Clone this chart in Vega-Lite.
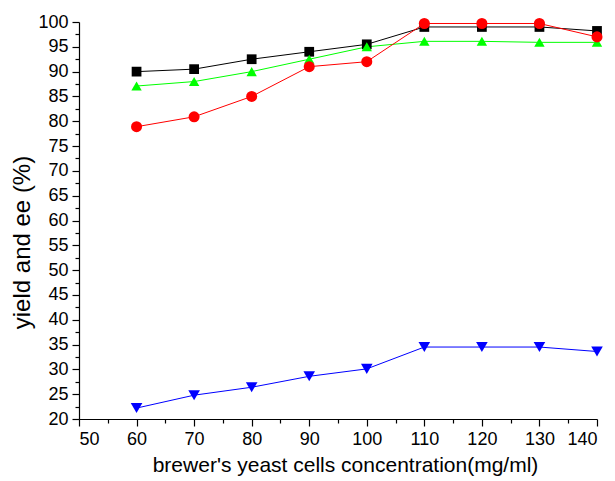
{
  "$schema": "https://vega.github.io/schema/vega-lite/v6.json",
  "autosize": {"type": "none"},
  "padding": {"left": 79, "top": 22, "right": 18, "bottom": 62},
  "width": 518,
  "height": 397,
  "background": "white",
  "config": {
    "view": {"stroke": null},
    "font": "Liberation Sans",
    "axis": {"grid": false, "domainColor": "black", "tickColor": "black", "labelColor": "black", "titleColor": "black", "labelFont": "Liberation Sans", "titleFont": "Liberation Sans", "labelFontSize": 18, "titleFontSize": 21, "titleFontWeight": "normal", "domainWidth": 1.2, "tickWidth": 1.2}
  },
  "data": {"values": [
    {"c": 60, "v": 90, "s": "A"}, {"c": 70, "v": 90.5, "s": "A"}, {"c": 80, "v": 92.5, "s": "A"}, {"c": 90, "v": 94, "s": "A"}, {"c": 100, "v": 95.5, "s": "A"}, {"c": 110, "v": 99, "s": "A"}, {"c": 120, "v": 99, "s": "A"}, {"c": 130, "v": 99, "s": "A"}, {"c": 140, "v": 98.2, "s": "A"},
    {"c": 60, "v": 87.1, "s": "B"}, {"c": 70, "v": 88, "s": "B"}, {"c": 80, "v": 90, "s": "B"}, {"c": 90, "v": 92.5, "s": "B"}, {"c": 100, "v": 95, "s": "B"}, {"c": 110, "v": 96.1, "s": "B"}, {"c": 120, "v": 96.1, "s": "B"}, {"c": 130, "v": 95.9, "s": "B"}, {"c": 140, "v": 95.9, "s": "B"},
    {"c": 60, "v": 78.9, "s": "C"}, {"c": 70, "v": 80.9, "s": "C"}, {"c": 80, "v": 85, "s": "C"}, {"c": 90, "v": 91, "s": "C"}, {"c": 100, "v": 92, "s": "C"}, {"c": 110, "v": 99.7, "s": "C"}, {"c": 120, "v": 99.7, "s": "C"}, {"c": 130, "v": 99.7, "s": "C"}, {"c": 140, "v": 97, "s": "C"},
    {"c": 60, "v": 22.2, "s": "D"}, {"c": 70, "v": 24.8, "s": "D"}, {"c": 80, "v": 26.4, "s": "D"}, {"c": 90, "v": 28.6, "s": "D"}, {"c": 100, "v": 30.1, "s": "D"}, {"c": 110, "v": 34.5, "s": "D"}, {"c": 120, "v": 34.5, "s": "D"}, {"c": 130, "v": 34.5, "s": "D"}, {"c": 140, "v": 33.6, "s": "D"}
  ]},
  "encoding": {
    "x": {"field": "c", "type": "quantitative", "scale": {"domain": [50, 140], "nice": false, "zero": false}},
    "y": {"field": "v", "type": "quantitative", "scale": {"domain": [20, 100], "nice": false, "zero": false}}
  },
  "layer": [
    {
      "mark": {"type": "line", "strokeWidth": 1, "clip": false},
      "encoding": {
        "x": {"field": "c", "type": "quantitative", "axis": {"title": "brewer's yeast cells concentration(mg/ml)", "values": [50, 60, 70, 80, 90, 100, 110, 120, 130, 140], "tickSize": 7, "labelPadding": 4, "titlePadding": 6, "titleX": 266}},
        "y": {"field": "v", "type": "quantitative", "axis": {"title": "yield and ee (%)", "values": [20, 25, 30, 35, 40, 45, 50, 55, 60, 65, 70, 75, 80, 85, 90, 95, 100], "tickSize": 7, "labelPadding": 4, "titleFontSize": 24, "titleX": -45, "titleY": 220}},
        "color": {"field": "s", "type": "nominal", "scale": {"domain": ["A", "B", "C", "D"], "range": ["#000000", "#00ff00", "#ff0000", "#0000ff"]}, "legend": null}
      }
    },
    {
      "mark": {"type": "point", "filled": true, "opacity": 1, "clip": false},
      "encoding": {
        "x": {"field": "c", "type": "quantitative", "axis": {"title": null, "labels": false, "domain": false, "orient": "bottom", "values": [55, 65, 75, 85, 95, 105, 115, 125, 135], "tickSize": 4}},
        "y": {"field": "v", "type": "quantitative", "axis": {"title": null, "labels": false, "domain": false, "orient": "left", "values": [22.5, 27.5, 32.5, 37.5, 42.5, 47.5, 52.5, 57.5, 62.5, 67.5, 72.5, 77.5, 82.5, 87.5, 92.5, 97.5], "tickSize": 4}},
        "color": {"field": "s", "type": "nominal", "scale": {"domain": ["A", "B", "C", "D"], "range": ["#000000", "#00ff00", "#ff0000", "#0000ff"]}, "legend": null},
        "shape": {"field": "s", "type": "nominal", "scale": {"domain": ["A", "B", "C", "D"], "range": ["square", "triangle-up", "circle", "triangle-down"]}, "legend": null},
        "size": {"field": "s", "type": "nominal", "scale": {"domain": ["A", "B", "C", "D"], "range": [95, 135, 105, 135]}, "legend": null}
      }
    }
  ],
  "resolve": {"axis": {"x": "independent", "y": "independent"}}
}
